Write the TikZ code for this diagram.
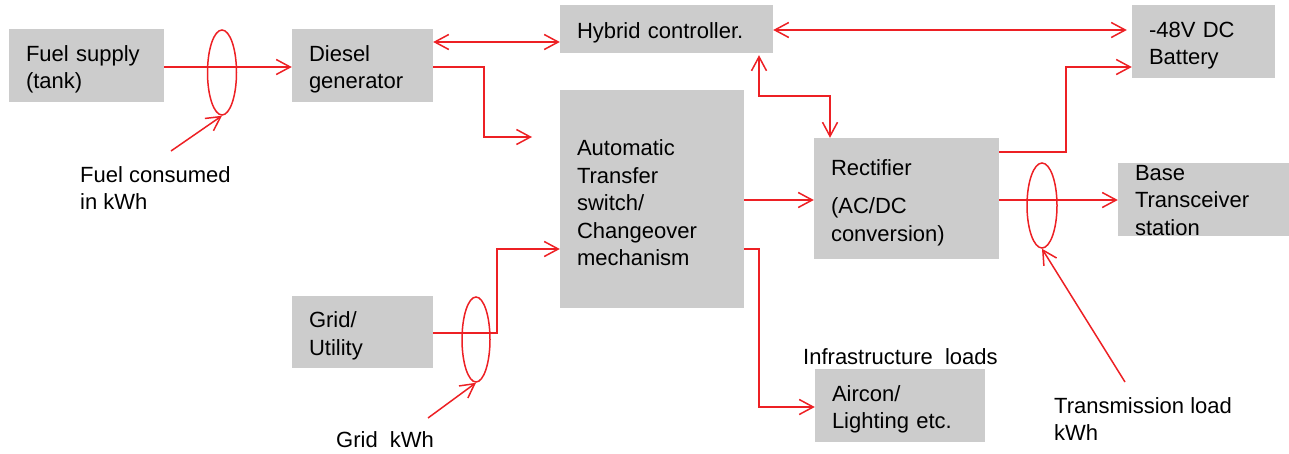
\documentclass[tikz,border=0pt]{standalone}
\usepackage{fontspec}
\setmainfont{Liberation Sans}
\usetikzlibrary{arrows.meta,shapes.geometric}
\definecolor{boxgray}{RGB}{204,204,204}
\definecolor{wirered}{RGB}{237,32,36}
\tikzset{
  box/.style={fill=boxgray, align=left, inner xsep=17pt, inner ysep=0pt, text height=24pt, font=\fontsize{22}{27.5}\selectfont},
  wire/.style={draw=wirered, line width=1.5pt, -{Straight Barb[length=14pt,width=15pt]}},
  twoway/.style={{Straight Barb[length=14pt,width=15pt]}-{Straight Barb[length=14pt,width=15pt]}},
  meter/.style={ellipse, draw=wirered, line width=1.5pt, minimum width=29pt, minimum height=85pt, inner sep=0pt},
  note/.style={anchor=west, align=left, inner sep=0pt, font=\fontsize{22}{27.5}\selectfont}
}
\begin{document}
\begin{tikzpicture}[x=1pt,y=-1pt]
\useasboundingbox (0,0) rectangle (1289,453);
% Sources
\node[box, text width=121pt, minimum height=73pt] (fuel) at (86.5,65.5) {Fuel supply\\(tank)};
\node[box, text width=107pt, minimum height=73pt] (diesel) at (362.5,65.5) {Diesel\\generator};
\node[box, text width=107pt, minimum height=72pt] (grid) at (362.5,332) {Grid/\\Utility};

% Control and conversion
\node[box, text width=179pt, minimum height=48pt] (hybrid) at (666.5,29) {Hybrid controller.};
\node[box, text width=150pt, minimum height=218pt] (ats) at (652,199) {Automatic\\Transfer\\switch/\\Changeover\\mechanism};
\node[box, text width=151pt, minimum height=121pt] (rect) at (906.5,198.5) {Rectifier\\[11pt](AC/DC\\conversion)};

% Loads
\node[box, text width=109pt, minimum height=73pt] (battery) at (1203.5,41.5) {-48V DC\\Battery};
\node[box, text width=137pt, minimum height=73pt, text height=17pt, text depth=56pt] (bts) at (1203.5,199.5) {Base\\Transceiver\\station};
\node[box, text width=136pt, minimum height=73pt] (aircon) at (900,405.5) {Aircon/\\Lighting etc.};

% Meters
\node[meter] (mfuel) at (222,72.5) {};
\node[meter, minimum width=28pt] (mgrid) at (476,339.5) {};
\node[meter, minimum width=30pt] (mtx) at (1042,205.5) {};

% Power flow
\draw[wire] (fuel.east |- 0,67) -- (diesel.west |- 0,67);
\draw[wire,twoway] (diesel.east |- 0,42) -- (hybrid.west |- 0,42);
\coordinate (dgout) at (532,137);
\draw[wire] (diesel.east |- 0,67) -| (484,137) -- (dgout);
\draw[wire,twoway] (hybrid.east |- 0,30) -- ([xshift=-5pt]battery.west |- 0,30);
\draw[wire,twoway] ([yshift=-2pt]hybrid.south -| 759,0) |- (830,96) -- (rect.north -| 830,0);
\draw[wire] (ats.east |- 0,200) -- (rect.west |- 0,200);
\draw[wire] (rect.east |- 0,152) -| (1066,67) -- (battery.west |- 0,67);
\draw[wire] (rect.east |- 0,200) -- (bts.west |- 0,200);
\draw[wire] (grid.east |- 0,333) -| (497,249) -- (ats.west |- 0,249);
\draw[wire] (ats.east |- 0,249) -| (759,407) -- (aircon.west |- 0,407);

% Metering labels
\node[note] (fuelkwh) at (80,188) {Fuel consumed\\in kWh};
\node[note] (gridkwh) at (336,440) {Grid\ \ kWh};
\node[note] (infra) at (803,357) {Infrastructure\ \ loads};
\node[note] (txkwh) at (1054,419) {Transmission load\\kWh};
\coordinate (fuelptr) at (171,151);
\coordinate (gridptr) at (428,418);
\coordinate (txptr) at (1125,382);
\draw[wire] (fuelptr) -- (mfuel.south);
\draw[wire] (gridptr) -- (mgrid.south);
\draw[wire] (txptr) -- (mtx.south);
\end{tikzpicture}
\end{document}
